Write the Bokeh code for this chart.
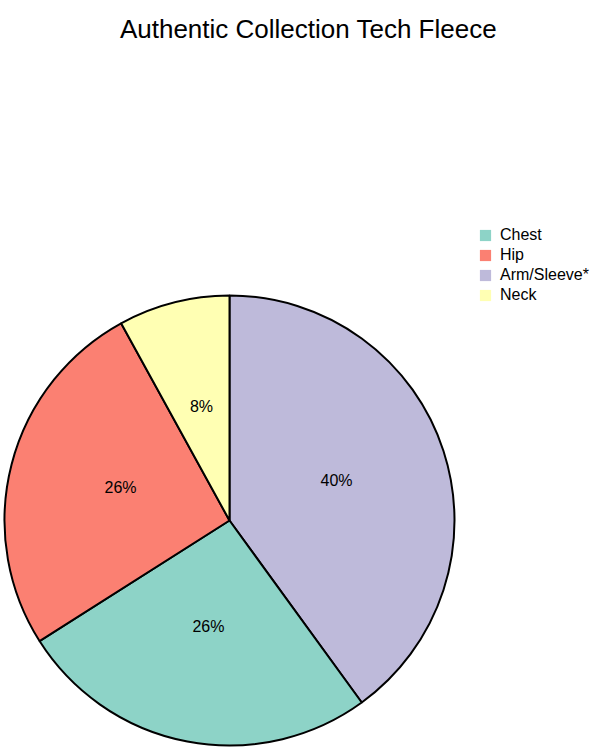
import math
from bokeh.plotting import figure
from bokeh.models import Range1d, Legend, LegendItem, ColumnDataSource
from bokeh.core.properties import value
from bokeh.embed import file_html
from bokeh.resources import INLINE

title_text = "Authentic Collection Tech Fleece"
categories = ["Chest", "Hip", "Arm/Sleeve*", "Neck"]
values = [26, 26, 40, 8]
colors = ["#8dd3c7", "#fb8072", "#bebada", "#ffffb3"]
# clockwise drawing order starting at 12 o'clock
draw_order = ["Arm/Sleeve*", "Chest", "Hip", "Neck"]

W, H = 599, 749
p = figure(width=W, height=H, output_backend="svg", toolbar_location=None,
           x_range=Range1d(0, W), y_range=Range1d(749 - H, 749),
           min_border=0, outline_line_color=None)
p.axis.visible = False
p.grid.visible = False

cx, cy, r = 229, 229, 225
total = sum(values)
cum = 0.0
items = []
for name in draw_order:
    i = categories.index(name)
    frac = values[i] / total
    a0 = math.pi / 2 - cum * 2 * math.pi
    a1 = math.pi / 2 - (cum + frac) * 2 * math.pi
    src = ColumnDataSource(dict(x=[cx], y=[cy], s=[a0], e=[a1]))
    rend = p.wedge(x="x", y="y", radius=r, start_angle="s", end_angle="e",
                   direction="clock", fill_color=colors[i], line_color=None,
                   source=src)
    p.wedge(x="x", y="y", radius=r, start_angle="s", end_angle="e",
            direction="clock", fill_color=None, line_color="black",
            line_width=2, source=src)
    mid = math.pi / 2 - (cum + frac / 2) * 2 * math.pi
    p.text(x=[cx + 0.5 * r * math.cos(mid)], y=[cy + 0.5 * r * math.sin(mid) + 5],
           text=[f"{round(values[i])}%"], text_align="center", text_baseline="middle",
           text_font=value("Liberation Sans"), text_font_size="16px", text_color="black")
    items.append((i, rend))
    cum += frac

items.sort(key=lambda t: t[0])
leg_h = 4 * 19 + 3 * 1
legend = Legend(items=[LegendItem(label=categories[i], renderers=[rd]) for i, rd in items],
                location=(478, H - (225 + leg_h)), orientation="vertical",
                label_text_font="Liberation Sans", label_text_font_size="16px",
                label_text_color="black",
                glyph_width=14, glyph_height=14, label_height=19, label_standoff=8,
                spacing=1, padding=0, margin=0, border_line_color=None,
                background_fill_alpha=0)
p.add_layout(legend, "center")

p.text(x=[308], y=[749 - 28], text=[title_text], text_align="center",
       text_baseline="alphabetic", text_font=value("Liberation Sans"),
       text_font_size="26px", text_color="black")

open("out.html", "w").write(file_html(p, INLINE))
